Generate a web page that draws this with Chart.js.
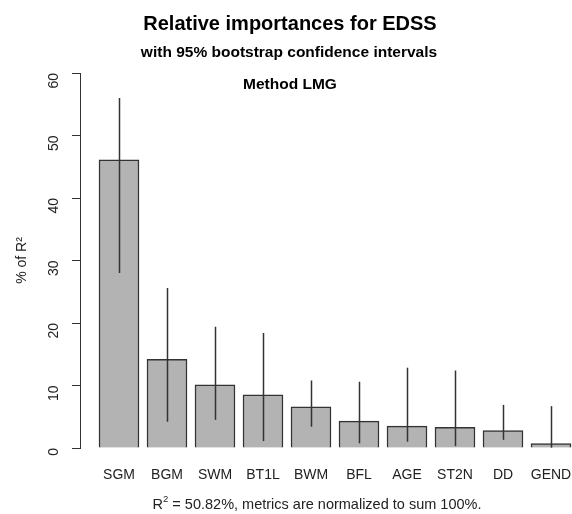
<!DOCTYPE html>
<html><head><meta charset="utf-8">
<script src="https://cdn.jsdelivr.net/npm/chart.js@4/dist/chart.umd.min.js"></script>
<style>html,body{margin:0;padding:0;background:#fff;overflow:hidden}#wrap{width:572px;height:514px}</style>
</head><body><div id="wrap"><canvas id="c" width="572" height="514"></canvas></div>
<script>
const categories = ['SGM','BGM','SWM','BT1L','BWM','BFL','AGE','ST2N','DD','GEND'];
const importance = [46.1, 14.2, 10.1, 8.5, 6.6, 4.3, 3.5, 3.3, 2.8, 0.7];
const ciLower = [28.0, 4.2, 4.5, 1.1, 3.4, 0.75, 1.0, 0.3, 1.3, 0.05];
const ciUpper = [56.0, 25.6, 19.4, 18.4, 10.8, 10.6, 12.85, 12.4, 6.9, 6.7];
const yTicks = [0, 10, 20, 30, 40, 50, 60];
const titleText = 'Relative importances for EDSS';
const subtitleText = 'with 95% bootstrap confidence intervals';
const methodText = 'Method LMG';
const footMain = ' = 50.82%, metrics are normalized to sum 100%.';
const yTitle = '% of R\u00B2';

const FONT = '"Liberation Sans", Arial, Helvetica, sans-serif';
const ink = '#222';

const errorBars = {
  id: 'errorBars',
  afterDatasetsDraw(chart) {
    const ctx = chart.ctx, xs = chart.scales.x, ys = chart.scales.y;
    ctx.save();
    ctx.strokeStyle = '#333';
    ctx.lineWidth = 1.5;
    categories.forEach((c, i) => {
      const x = Math.round(xs.getPixelForValue(i)) + 0.5;
      ctx.beginPath();
      ctx.moveTo(x, ys.getPixelForValue(ciLower[i]));
      ctx.lineTo(x, ys.getPixelForValue(ciUpper[i]));
      ctx.stroke();
    });
    ctx.restore();
  }
};

const headings = {
  id: 'headings',
  afterDraw(chart) {
    const ctx = chart.ctx;
    ctx.save();
    ctx.fillStyle = '#000';
    ctx.textAlign = 'center';
    ctx.textBaseline = 'middle';
    ctx.font = 'bold 20px ' + FONT;
    ctx.fillText(titleText, 290, 24);
    ctx.font = 'bold 15.5px ' + FONT;
    ctx.fillText(subtitleText, 289, 53);
    ctx.fillText(methodText, 290, 85);
    // footnote with superscript 2
    ctx.fillStyle = ink;
    ctx.font = '14.5px ' + FONT;
    const wR = ctx.measureText('R').width;
    const wM = ctx.measureText(footMain).width;
    ctx.font = '9.5px ' + FONT;
    const w2 = ctx.measureText('2').width;
    const total = wR + w2 + wM;
    let x = 317 - total / 2;
    ctx.textAlign = 'left';
    ctx.font = '14.5px ' + FONT;
    ctx.fillText('R', x, 505);
    ctx.font = '9.5px ' + FONT;
    ctx.fillText('2', x + wR, 499);
    ctx.font = '14.5px ' + FONT;
    ctx.fillText(footMain, x + wR + w2, 505);
    ctx.restore();
  }
};

new Chart(document.getElementById('c'), {
  type: 'bar',
  data: {
    datasets: [{
      data: categories.map((c, i) => ({x: i, y: importance[i]})),
      backgroundColor: '#b3b3b3',
      borderColor: '#333',
      borderWidth: 1.5,
      barThickness: 40
    }]
  },
  options: {
    responsive: false,
    animation: false,
    layout: {padding: {top: 73, left: 0, right: 0, bottom: 0}},
    plugins: {legend: {display: false}, tooltip: {enabled: false}, title: {display: false}},
    scales: {
      x: {
        type: 'linear',
        offset: false,
        min: -0.8125,
        max: 9.4375,
        grid: {display: false, drawTicks: false, offset: false},
        border: {display: false},
        afterBuildTicks(scale) { scale.ticks = categories.map((c, i) => ({value: i})); },
        afterFit(scale) { scale.height = 66; scale.paddingLeft = 0; scale.paddingRight = 0; },
        ticks: {
          autoSkip: false, maxRotation: 0, minRotation: 0, padding: 19,
          color: ink, font: {family: FONT, size: 14},
          callback: (v) => categories[v]
        }
      },
      y: {
        min: 0, max: 60,
        afterBuildTicks(scale) { scale.ticks = yTicks.map(v => ({value: v})); },
        afterFit(scale) { scale.width = 80; scale.paddingTop = 0; scale.paddingBottom = 0; },
        grid: {drawOnChartArea: false, drawTicks: true, tickLength: 8, color: '#333', lineWidth: 1},
        border: {display: true, color: '#333', width: 1},
        ticks: {minRotation: 90, maxRotation: 90, padding: 18, color: ink, font: {family: FONT, size: 14}},
        title: {display: true, text: yTitle, color: ink, font: {family: FONT, size: 14}, padding: {top: 14, bottom: 0}}
      }
    }
  },
  plugins: [errorBars, headings]
});
</script></body></html>
